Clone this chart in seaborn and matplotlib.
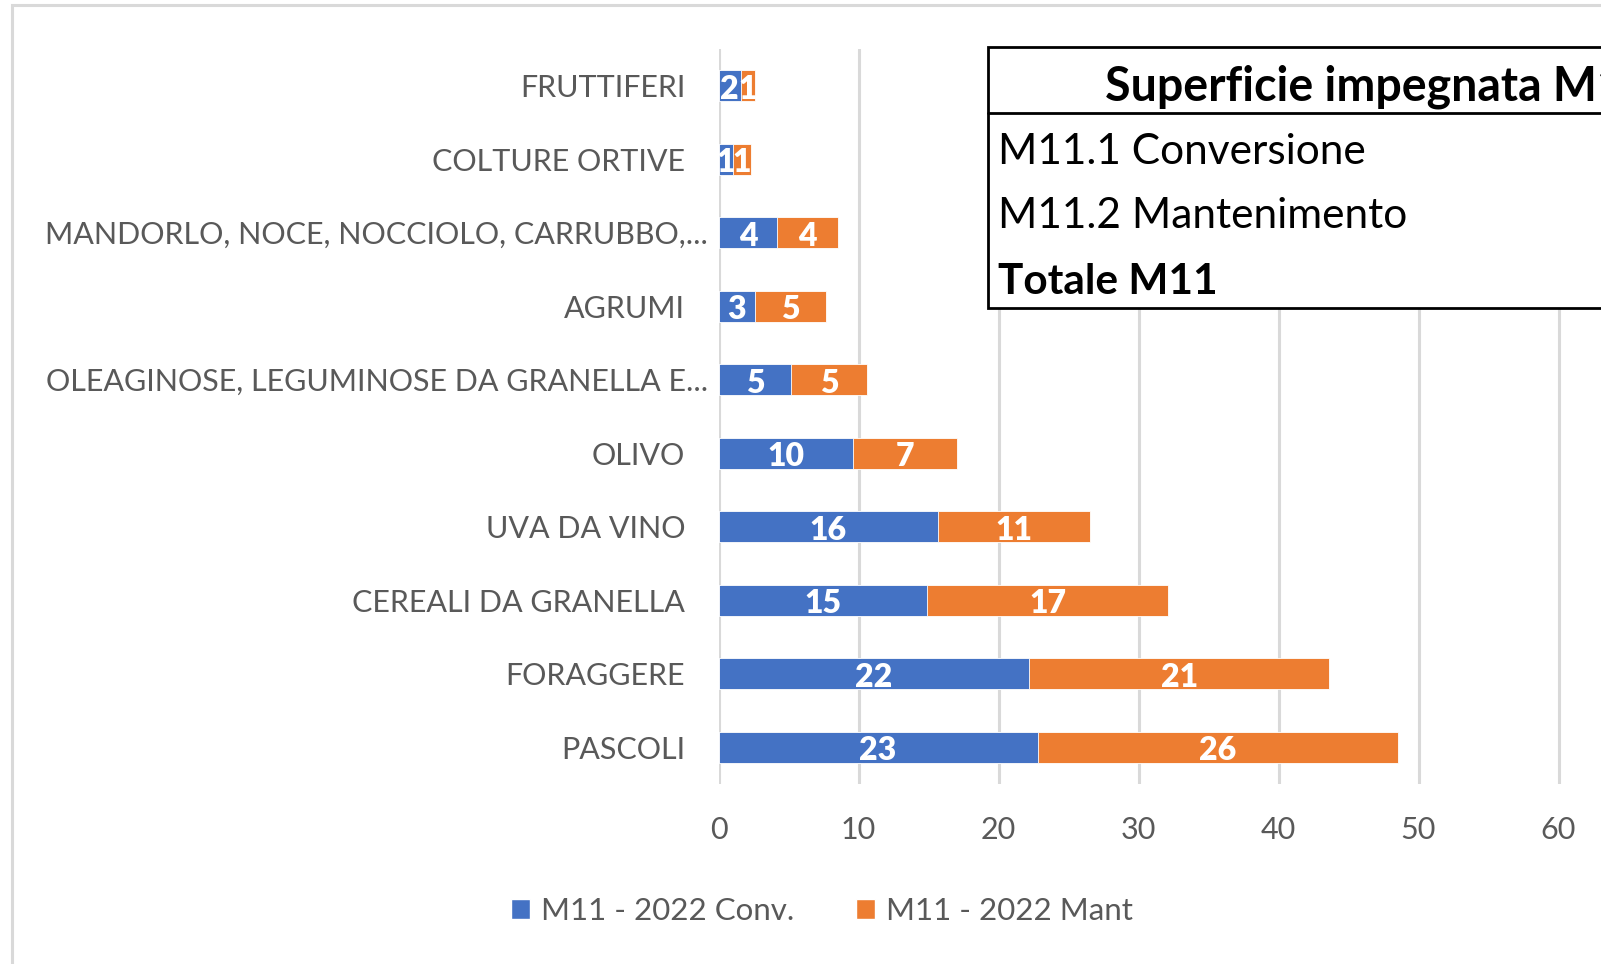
import matplotlib
matplotlib.use("Agg")
import matplotlib.pyplot as plt
import matplotlib.transforms as mtransforms
import pandas as pd
import seaborn as sns
from matplotlib.patches import Patch, Rectangle

categories = [
    "FRUTTIFERI",
    "COLTURE ORTIVE",
    "MANDORLO, NOCE, NOCCIOLO, CARRUBBO,...",
    "AGRUMI",
    "OLEAGINOSE, LEGUMINOSE DA GRANELLA E...",
    "OLIVO",
    "UVA DA VINO",
    "CEREALI DA GRANELLA",
    "FORAGGERE",
    "PASCOLI",
]
conv = [1.6, 1.0, 4.2, 2.6, 5.2, 9.6, 15.7, 14.9, 22.2, 22.8]
mant = [1.0, 1.3, 4.3, 5.1, 5.4, 7.4, 10.8, 17.2, 21.4, 25.7]
series_names = ["M11 - 2022 Conv.", "M11 - 2022 Mant"]
table_title = "Superficie impegnata M11"
table_rows = ["M11.1 Conversione", "M11.2 Mantenimento", "Totale M11"]

BLUE = "#4472C4"
ORANGE = "#ED7D31"
GREY_TXT = "#595959"
GRID = "#D9D9D9"

df = pd.DataFrame({"cat": categories, "conv": conv, "mant": mant})
df["tot"] = df["conv"] + df["mant"]

sns.set_style("white")
plt.rcParams["font.family"] = ["Lato", "DejaVu Sans"]

W, H = 1601, 964
fig = plt.figure(figsize=(W / 100, H / 100), dpi=100)
ax = fig.add_axes([718.5 / W, 1 - 784 / H, 980 / W, 735 / H])

sns.barplot(data=df, y="cat", x="tot", color=ORANGE, orient="h", width=0.42,
            saturation=1, ax=ax, zorder=3, edgecolor="white", linewidth=0.6)
sns.barplot(data=df, y="cat", x="conv", color=BLUE, orient="h", width=0.42,
            saturation=1, ax=ax, zorder=4, edgecolor="white", linewidth=0.6)

for i, row in df.iterrows():
    for xc, v in [(row["conv"] / 2, row["conv"]), (row["conv"] + row["mant"] / 2, row["mant"])]:
        ax.annotate(f"{v:.0f}", (xc, i), xytext=(0, -2.5), textcoords="offset points",
                    ha="center", va="center", color="white", fontsize=23,
                    fontweight="heavy", zorder=5)

ax.set_xlim(0, 70)
ax.set_ylim(9.5, -0.5)
ax.set_xticks(range(0, 61, 10))
ax.grid(axis="x", color=GRID, linewidth=2.2, zorder=0)
ax.grid(axis="y", visible=False)
ax.axvline(70, color=GRID, linewidth=2.2, zorder=0)
for s in ax.spines.values():
    s.set_visible(False)
ax.set_xlabel("")
ax.set_ylabel("")
ax.tick_params(axis="y", length=0, pad=24, labelsize=22, labelcolor=GREY_TXT)
ax.tick_params(axis="x", length=0, pad=23, labelsize=22, labelcolor=GREY_TXT)

# truncated labels sit closer to the axis
shift = mtransforms.ScaledTranslation(0.23, 0, fig.dpi_scale_trans)
for lbl in ax.get_yticklabels():
    if lbl.get_text().endswith("..."):
        lbl.set_transform(lbl.get_transform() + shift)

# outer chart border (only top/left visible in the crop)
fig.add_artist(Rectangle((12 / W, -0.1), 1.2, 1 - 5 / H + 0.1, transform=fig.transFigure,
                         fill=False, edgecolor=GRID, linewidth=2.2, zorder=0))

# data table overlay
x0, y_top, y_bot, y_sep = 988 / W, 1 - 47 / H, 1 - 308 / H, 1 - 113 / H
fig.add_artist(Rectangle((x0, y_bot), 1.0, y_top - y_bot, transform=fig.transFigure,
                         facecolor="white", edgecolor="black", linewidth=2.0, zorder=10))
fig.add_artist(plt.Line2D([x0, 1.2], [y_sep, y_sep], transform=fig.transFigure,
                          color="black", linewidth=2.0, zorder=11))
fig.text(1105 / W, 1 - 87 / H, table_title, fontsize=33.5, fontweight="bold",
         va="center", ha="left", color="black", zorder=12)
for k, (lab, yy) in enumerate(zip(table_rows, [152, 216, 282])):
    fig.text(998 / W, 1 - yy / H, lab, fontsize=30.5,
             fontweight="bold" if k == 2 else "normal",
             va="center", ha="left", color="black", zorder=12)

handles = [Patch(facecolor=BLUE), Patch(facecolor=ORANGE)]
fig.legend(handles, series_names, loc="center", bbox_to_anchor=(822 / W, 1 - 911 / H),
           ncol=2, frameon=False, fontsize=22.5, labelcolor=GREY_TXT,
           handlelength=0.6, handleheight=0.6, handletextpad=0.35, columnspacing=2.0)

fig.savefig("out.png", dpi=100)
